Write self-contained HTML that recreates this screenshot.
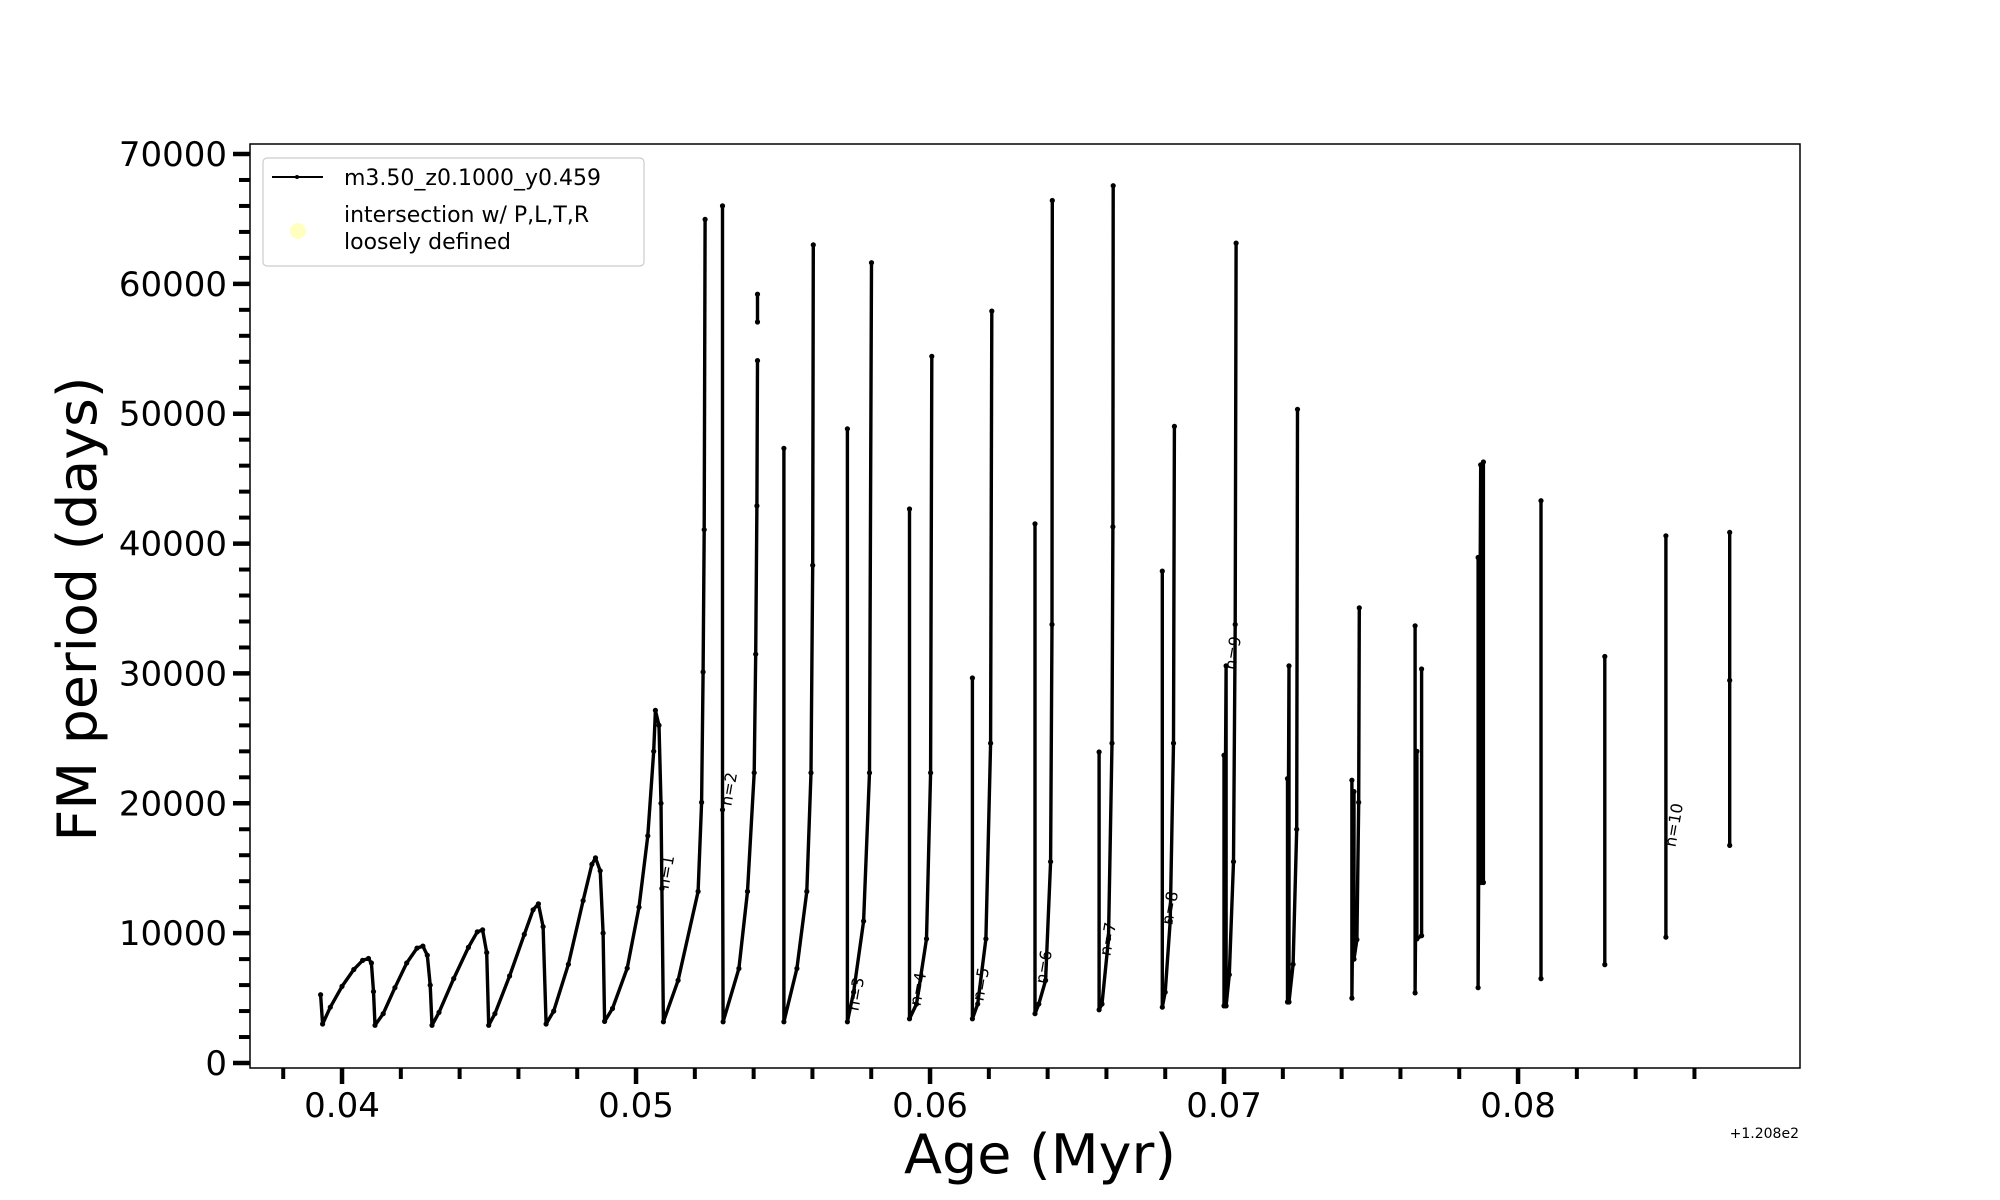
<!DOCTYPE html>
<html><head><meta charset="utf-8">
<style>
html,body{margin:0;padding:0;background:#fff;}
svg{display:block;font-family:"DejaVu Sans","Liberation Sans",sans-serif;}
</style></head>
<body>
<svg id="chart" width="2000" height="1200" viewBox="0 0 2000 1200" xmlns="http://www.w3.org/2000/svg">
<rect x="0" y="0" width="2000" height="1200" fill="#fff"/>
<g id="series"></g>
<g id="marks"></g>
<g id="annot"></g>
<rect x="250" y="144" width="1550" height="924" fill="none" stroke="#000" stroke-width="1.5"/>
<g id="xticks"></g>
<g id="yticks"></g>
<text x="0" y="0" transform="translate(96,609) rotate(-90)" text-anchor="middle" font-size="54" textLength="465" lengthAdjust="spacingAndGlyphs">FM period (days)</text>
<text x="1040" y="1186" text-anchor="middle" font-size="54" textLength="272" lengthAdjust="spacingAndGlyphs" transform="translate(0,-13)">Age (Myr)</text>
<text x="1799" y="1138" text-anchor="end" font-size="14">+1.208e2</text>
<g>
<rect x="263" y="158" width="381" height="108" rx="4" fill="#fff" fill-opacity="0.8" stroke="#ccc" stroke-width="1.2"/>
<line x1="272" y1="177" x2="323" y2="177" stroke="#000" stroke-width="2"/>
<circle cx="297" cy="177" r="2" fill="#000"/>
<text x="344" y="185" font-size="22">m3.50_z0.1000_y0.459</text>
<circle cx="298" cy="231" r="8" fill="#ffffb0" fill-opacity="0.8"/>
<text x="344" y="222" font-size="22">intersection w/ P,L,T,R</text>
<text x="344" y="249" font-size="22">loosely defined</text>
</g>
</svg>
<script>
const ages = [
0.03927,0.03934,0.0396,0.0400,0.0404,0.0407,0.0409,0.04100,0.04107,0.04112,
0.0414,0.0418,0.0422,0.04255,0.04275,0.04290,0.04300,0.04306,
0.0433,0.0438,0.0443,0.0446,0.04478,0.04492,0.04499,
0.0452,0.0457,0.0462,0.0465,0.04668,0.04684,0.04694,
0.0472,0.0477,0.0482,0.0485,0.04862,0.04878,0.04888,0.04893,
0.0492,0.0497,0.0501,0.0504,0.0506,0.05066,0.05078,0.05085,0.05088,0.05093,
0.05143,0.05211,0.05223,0.05228,0.05232,0.05235,null,
0.05294,0.05294,0.05296,0.0535,0.05379,0.05402,0.05407,0.05411,0.05413,null,
0.05413,0.05413,null,
0.05503,0.05503,0.05547,0.05581,0.05595,0.05601,0.05603,null,
0.05719,0.05719,0.05740,0.05774,0.05794,0.05801,null,
0.05930,0.05930,0.05954,0.05988,0.06002,0.06006,null,
0.06144,0.06144,0.06162,0.06190,0.06206,0.06210,null,
0.06357,0.06357,0.06370,0.06393,0.06410,0.06415,0.06416,null,
0.06575,0.06575,0.06585,0.06607,0.06619,0.06622,0.06623,null,
0.06790,0.06790,0.06800,0.06817,0.06828,0.06831,null,
0.07000,0.07000,0.07007,0.07007,0.07018,0.07032,0.07038,0.07041,null,
0.07216,0.07216,0.07221,0.07221,0.07235,0.07247,0.07250,null,
0.07435,0.07435,0.07442,0.07442,0.07452,0.07458,0.07460,null,
0.07650,0.07650,0.07656,0.07656,0.07672,0.07672,null,
0.07864,0.07864,0.07873,0.07873,0.07882,0.07882,null,
0.08078,0.08078,null,
0.08295,0.08295,null,
0.08503,0.08503,null,
0.08720,0.08720,0.08720
];
const periods = [
5260,3000,4300,5900,7200,7900,8050,7700,5500,2900,
3800,5800,7700,8850,9000,8300,6000,2900,
3900,6500,8900,10100,10250,8500,2900,
3800,6700,9900,11800,12250,10500,3000,
4000,7600,12500,15300,15800,14800,10000,3200,
4200,7300,12000,17500,24000,27150,26000,20000,13440,3170,
6360,13210,20070,30110,41070,64960,null,
66000,19500,3170,7280,13210,22350,31480,42900,54090,null,
59200,57060,null,
47340,3170,7280,13210,22350,38330,63000,null,
48840,3170,5450,10930,22350,61630,null,
42660,3400,4540,9560,22350,54420,null,
29650,3400,4540,9560,24630,57900,null,
41520,3800,4540,6360,15500,33770,66420,null,
23950,4100,4540,9560,24630,41290,67560,null,
37880,4300,5450,10930,24630,49020,null,
23700,4400,30580,4400,6800,15500,33770,63140,null,
21900,4700,30580,4700,7600,18000,50340,null,
21780,5000,20900,8000,9500,20070,35050,null,
33670,5400,24000,9560,9800,30340,null,
38930,5800,46060,13900,46280,13900,null,
43300,6500,null,
31300,7580,null,
40600,9690,null,
40860,16760,29460
];
const xTickValues = [0.04,0.05,0.06,0.07,0.08];
const xTickLabels = ["0.04","0.05","0.06","0.07","0.08"];
const xMinorValues = [0.038,0.042,0.044,0.046,0.048,0.052,0.054,0.056,0.058,0.062,0.064,0.066,0.068,0.072,0.074,0.076,0.078,0.082,0.084,0.086];
const yTickValues = [0,10000,20000,30000,40000,50000,60000,70000];
const yTickLabels = ["0","10000","20000","30000","40000","50000","60000","70000"];
const nLabels = ["n=1","n=2","n=3","n=4","n=5","n=6","n=7","n=8","n=9","n=10"];
const nAges = [0.05120,0.05334,0.05766,0.05977,0.06191,0.06405,0.06623,0.06834,0.07048,0.08548];
const nPeriods = [14630,21020,5240,5620,6000,7320,9470,11860,31500,18250];

const X0=250,X1=1800,Y0=1068,Y1=144;
const xMin=0.03687,xMax=0.08959,yMin=-385,yMax=70770;
function sx(v){return X0+(v-xMin)/(xMax-xMin)*(X1-X0);}
function sy(v){return Y0-(v-yMin)/(yMax-yMin)*(Y0-Y1);}
const NS="http://www.w3.org/2000/svg";
function mk(tag,attrs,parent){const e=document.createElementNS(NS,tag);for(const k in attrs)e.setAttribute(k,attrs[k]);parent.appendChild(e);return e;}

const gS=document.getElementById('series'), gM=document.getElementById('marks');
let d='', pen=false;
for(let i=0;i<ages.length;i++){
  if(ages[i]===null||periods[i]===null){pen=false;continue;}
  const x=sx(ages[i]).toFixed(1), y=sy(periods[i]).toFixed(1);
  d+=(pen?'L':'M')+x+' '+y+' '; pen=true;
  const c=mk('circle',{cx:x,cy:y,r:2.6,fill:'#000'},gM);
  
  
}
const path=mk('path',{d:d,fill:'none',stroke:'#000','stroke-width':3.4,'stroke-linejoin':'round'},gS);



const gA=document.getElementById('annot');
for(let i=0;i<nLabels.length;i++){
  const x=sx(nAges[i]), y=sy(nPeriods[i]);
  const t=mk('text',{x:0,y:0,transform:`translate(${x.toFixed(1)},${y.toFixed(1)}) rotate(-80)`,'font-size':16,'text-anchor':'middle'},gA);
  t.textContent=nLabels[i];
  
  
}

const gX=document.getElementById('xticks');
for(let i=0;i<xTickValues.length;i++){
  const x=sx(xTickValues[i]);
  const l=mk('line',{x1:x,y1:Y0,x2:x,y2:Y0+16,stroke:'#000','stroke-width':4.5},gX);
  
  
  const t=mk('text',{x:x,y:1117,'text-anchor':'middle','font-size':34},gX);
  t.textContent=xTickLabels[i];
  
  
}
for(const v of xMinorValues){
  const x=sx(v);
  const l=mk('line',{x1:x,y1:Y0,x2:x,y2:Y0+11,stroke:'#000','stroke-width':4},gX);
  
  
}
const gY=document.getElementById('yticks');
for(let i=0;i<yTickValues.length;i++){
  const y=sy(yTickValues[i]);
  const l=mk('line',{x1:X0-17,y1:y,x2:X0,y2:y,stroke:'#000','stroke-width':4.5},gY);
  
  
  const t=mk('text',{x:227,y:y+12,'text-anchor':'end','font-size':34},gY);
  t.textContent=yTickLabels[i];
  
  
}
for(let v=2000;v<70000;v+=2000){
  if(v%10000===0)continue;
  const y=sy(v);
  const l=mk('line',{x1:X0-11,y1:y,x2:X0,y2:y,stroke:'#000','stroke-width':4},gY);
  
  
}
</script>
</body></html>
